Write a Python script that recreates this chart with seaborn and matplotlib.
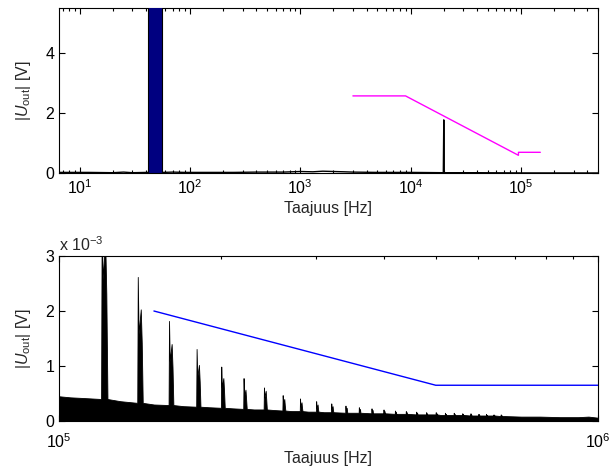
import numpy as np
import pandas as pd
import matplotlib
matplotlib.use("Agg")
import matplotlib.pyplot as plt
import seaborn as sns
from matplotlib.ticker import LogLocator, NullFormatter

# ---------------- data: top panel (full spectrum, V) ----------------
fund_lo_hz = 42.0
fund_hi_hz = 56.0
fund_amp_v = 325.0

top_freq_hz = [6.5, 12, 20, 25, 30, 41, 57, 70, 90, 150, 250, 400, 700, 1000,
               1300, 1600, 2000, 2500, 3000, 5000, 10000, 19800, 20000, 20200,
               40000, 100000, 500000]
top_amp_v = [0.02, 0.02, 0.01, 0.03, 0.01, 0.02, 0.02, 0.03, 0.02, 0.02, 0.02,
             0.03, 0.03, 0.05, 0.04, 0.06, 0.05, 0.04, 0.03, 0.02, 0.02, 0.01,
             1.77, 0.01, 0.01, 0.003, 0.001]

limit_top_freq_hz = [3000, 9000, 95000, 95000, 150000]
limit_top_v = [2.57, 2.57, 0.59, 0.69, 0.69]

# ---------------- data: bottom panel (100 kHz .. 1 MHz, mV) ----------------
floor_khz = [100, 105, 110, 130, 150, 170, 190, 210, 230, 250, 270, 290, 310,
             350, 390, 430, 470, 510, 550, 590, 630, 670, 720, 780, 850, 920,
             960, 1000]
floor_mv = [0.45, 0.43, 0.42, 0.36, 0.30, 0.27, 0.25, 0.23, 0.21, 0.20, 0.18,
            0.17, 0.16, 0.15, 0.14, 0.13, 0.12, 0.11, 0.11, 0.10, 0.10, 0.09,
            0.08, 0.08, 0.07, 0.07, 0.08, 0.06]

harm_khz = [120, 140, 160, 180, 200, 220, 240, 260, 280, 300, 320, 340, 360,
            380, 400, 420, 440, 460, 480, 500, 520, 540, 560, 580, 600, 620,
            640, 660]
harm_base_mv = [0.40, 0.33, 0.29, 0.26, 0.24, 0.22, 0.21, 0.19, 0.18, 0.17,
                0.16, 0.15, 0.15, 0.14, 0.14, 0.13, 0.13, 0.12, 0.12, 0.12,
                0.11, 0.11, 0.11, 0.10, 0.10, 0.10, 0.10, 0.09]
harm_peak_mv = [3.6, 2.62, 1.82, 1.31, 0.99, 0.78, 0.61, 0.47, 0.41, 0.36,
                0.32, 0.28, 0.25, 0.23, 0.21, 0.19, 0.18, 0.17, 0.16, 0.16,
                0.15, 0.15, 0.14, 0.14, 0.13, 0.13, 0.12, 0.12]
harm_side_mv = [3.3, 2.03, 1.40, 1.02, 0.78, 0.57, 0.55, 0.40, 0.34, 0.30,
                0.27, 0.24, 0.22, 0.20, 0.18, 0.17, 0.16, 0.15, 0.14, 0.14,
                0.13, 0.13, 0.13, 0.12, 0.12, 0.11, 0.11, 0.11]

limit_bot_freq_hz = [150e3, 500e3, 1e6]
limit_bot_mv = [2.0, 0.65, 0.65]

# ---------------- style ----------------
sns.set_style("ticks")
plt.rcParams["font.family"] = ["Liberation Sans", "DejaVu Sans"]
plt.rcParams["mathtext.fontset"] = "custom"
plt.rcParams["mathtext.rm"] = "Liberation Sans"
plt.rcParams["mathtext.it"] = "Liberation Sans:italic"
plt.rcParams["font.size"] = 11.5
plt.rcParams["axes.linewidth"] = 0.8

fig = plt.figure(figsize=(6.11, 4.73), dpi=100)
ax1 = fig.add_axes([59 / 611, 1 - 173 / 473, 539 / 611, 165 / 473])
ax2 = fig.add_axes([59 / 611, 1 - 421 / 473, 539 / 611, 165 / 473])

# ---- top panel ----
ax1.bar([fund_lo_hz], [fund_amp_v], width=[fund_hi_hz - fund_lo_hz],
        align="edge", color="#000080", edgecolor="black", linewidth=0.8, zorder=3)
sns.lineplot(x=top_freq_hz, y=top_amp_v, ax=ax1, color="black", linewidth=1.0,
             estimator=None, sort=False, zorder=2)
sns.lineplot(x=limit_top_freq_hz, y=limit_top_v, ax=ax1, color="#ff00ff",
             linewidth=1.0, estimator=None, sort=False, zorder=4)
ax1.set_xscale("log")
ax1.set_xlim(6.5, 5e5)
ax1.set_ylim(0, 5.5)
ax1.set_yticks([0, 2, 4])
ax1.set_yticklabels(["0", "2", "4"])
ax1.set_xlabel("Taajuus [Hz]", labelpad=3)
ax1.set_ylabel("|$U_{\\mathrm{out}}$| [V]", labelpad=9)

# ---- bottom panel ----
pts = list(zip(floor_khz, floor_mv))
for f, b, p, s in zip(harm_khz, harm_base_mv, harm_peak_mv, harm_side_mv):
    pts += [(f - 0.3, b), (f, p), (f + 0.5, s * 0.78), (f + 1.8, s),
            (f + 2.4, s * 0.7), (f + 3.0, b)]
pts.sort(key=lambda t: t[0])
spec = pd.DataFrame(pts, columns=["khz", "mv"])
spec_hz = spec["khz"].to_numpy() * 1e3
spec_v = spec["mv"].to_numpy() * 1e-3
ax2.fill_between(spec_hz, 0, spec_v, color="black", linewidth=0.6,
                 edgecolor="black", zorder=2)
sns.lineplot(x=limit_bot_freq_hz, y=np.array(limit_bot_mv) * 1e-3, ax=ax2,
             color="#0000ff", linewidth=1.0, estimator=None, sort=False, zorder=3)
ax2.set_xscale("log")
ax2.set_xlim(1e5, 1e6)
ax2.set_ylim(0, 3e-3)
ax2.set_yticks([0, 1e-3, 2e-3, 3e-3])
ax2.set_yticklabels(["0", "1", "2", "3"])
ax2.set_xlabel("Taajuus [Hz]", labelpad=0)
ax2.set_ylabel("|$U_{\\mathrm{out}}$| [V]", labelpad=9)
ax2.text(0.0, 1.015, "x 10$^{-3}$", transform=ax2.transAxes, ha="left",
         va="bottom")

for ax in (ax1, ax2):
    ax.tick_params(which="both", direction="in", top=True, right=True,
                   width=0.8, colors="black")
    ax.tick_params(which="major", length=4)
    ax.tick_params(which="minor", length=2.5)
    ax.xaxis.set_major_locator(LogLocator(base=10, numticks=20))
    ax.xaxis.set_minor_locator(LogLocator(base=10, subs=np.arange(2, 10), numticks=100))
    for sp in ax.spines.values():
        sp.set_visible(True)
        sp.set_color("black")
ax2.xaxis.set_minor_formatter(NullFormatter())
ax2.tick_params(axis="x", which="major", pad=8)

fig.savefig("out.png", dpi=100, facecolor="white")
